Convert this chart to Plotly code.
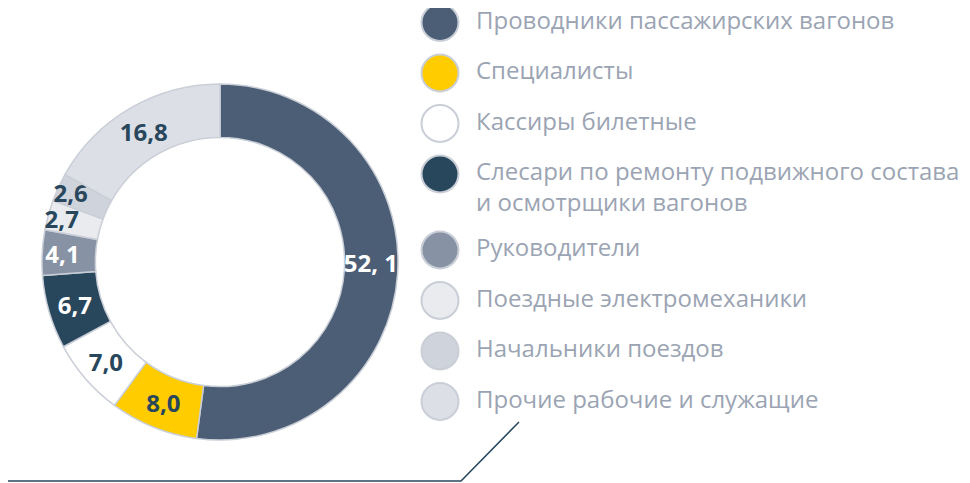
import plotly.graph_objects as go

# ---- data ----
categories = [
    "Проводники пассажирских вагонов",
    "Специалисты",
    "Кассиры билетные",
    "Слесари по ремонту подвижного состава<br>и осмотрщики вагонов",
    "Руководители",
    "Поездные электромеханики",
    "Начальники поездов",
    "Прочие рабочие и служащие",
]
values = [52.1, 8.0, 7.0, 6.7, 4.1, 2.7, 2.6, 16.8]
value_labels = ["52, 1", "8,0", "7,0", "6,7", "4,1", "2,7", "2,6", "16,8"]

# ---- styles ----
colors = ["#4b5e75", "#ffcc00", "#ffffff", "#28465c", "#8793a4", "#e9ebef", "#cfd3db", "#dcdfe6"]
label_colors = ["#ffffff", "#28465c", "#28465c", "#ffffff", "#ffffff", "#28465c", "#28465c", "#28465c"]
border = "#c9ced7"
legend_text = "#9ba4b3"

W, H = 970, 483
OFF = 8  # page body margin compensation
fig = go.Figure()

CX, CY, R = 220 - OFF, 262 - OFF, 178
fig.add_trace(go.Pie(
    values=values,
    labels=categories,
    text=value_labels,
    textinfo="text",
    textposition="inside",
    insidetextorientation="horizontal",
    sort=False,
    direction="clockwise",
    rotation=0,
    hole=0.70,
    marker=dict(colors=colors, line=dict(color=border, width=1.5)),
    textfont=dict(family="Open Sans", size=24, color=label_colors, weight="bold"),
    domain=dict(x=[(CX - R) / W, (CX + R) / W], y=[(H - CY - R) / H, (H - CY + R) / H]),
    showlegend=False,
    hoverinfo="skip",
))

# ---- custom legend (large circles) ----
LEG_FONT = 24
LEG_X = 440 - OFF
LEG_Y0 = 20 - OFF + 2.5
LEG_STEP = 50.5
LINE_H = 25.5
ys = []
text_ys = []
y = LEG_Y0
for cat in categories:
    extra = cat.count("<br>")
    ys.append(y)
    text_ys.append(y + extra * 1.3 * LEG_FONT / 2)
    y += LEG_STEP + extra * LINE_H

fig.add_trace(go.Scatter(
    x=[LEG_X] * len(categories), y=ys, mode="markers",
    marker=dict(size=37, color=colors, line=dict(color=border, width=2)),
    cliponaxis=False,
    xaxis="x", yaxis="y", showlegend=False, hoverinfo="skip",
))
fig.add_trace(go.Scatter(
    x=[LEG_X + 36] * len(categories), y=text_ys, mode="text",
    text=categories, textposition="middle right",
    textfont=dict(family="Open Sans", size=LEG_FONT, color=legend_text),
    cliponaxis=False,
    xaxis="x", yaxis="y", showlegend=False, hoverinfo="skip",
))

# decorative line
fig.add_shape(type="path", xref="x", yref="y",
              path=f"M {-OFF} {481 - OFF} L {461 - OFF} {481 - OFF} L {519 - OFF} {422 - OFF}",
              line=dict(color="#28465c", width=1.5))

fig.update_layout(
    width=W, height=H,
    margin=dict(l=0, r=0, t=0, b=0),
    paper_bgcolor="white", plot_bgcolor="white",
    xaxis=dict(range=[0, W], visible=False, fixedrange=True),
    yaxis=dict(range=[H, 0], visible=False, fixedrange=True),
    uniformtext=dict(minsize=24, mode="show"),
)

fig.write_html("out.html")
